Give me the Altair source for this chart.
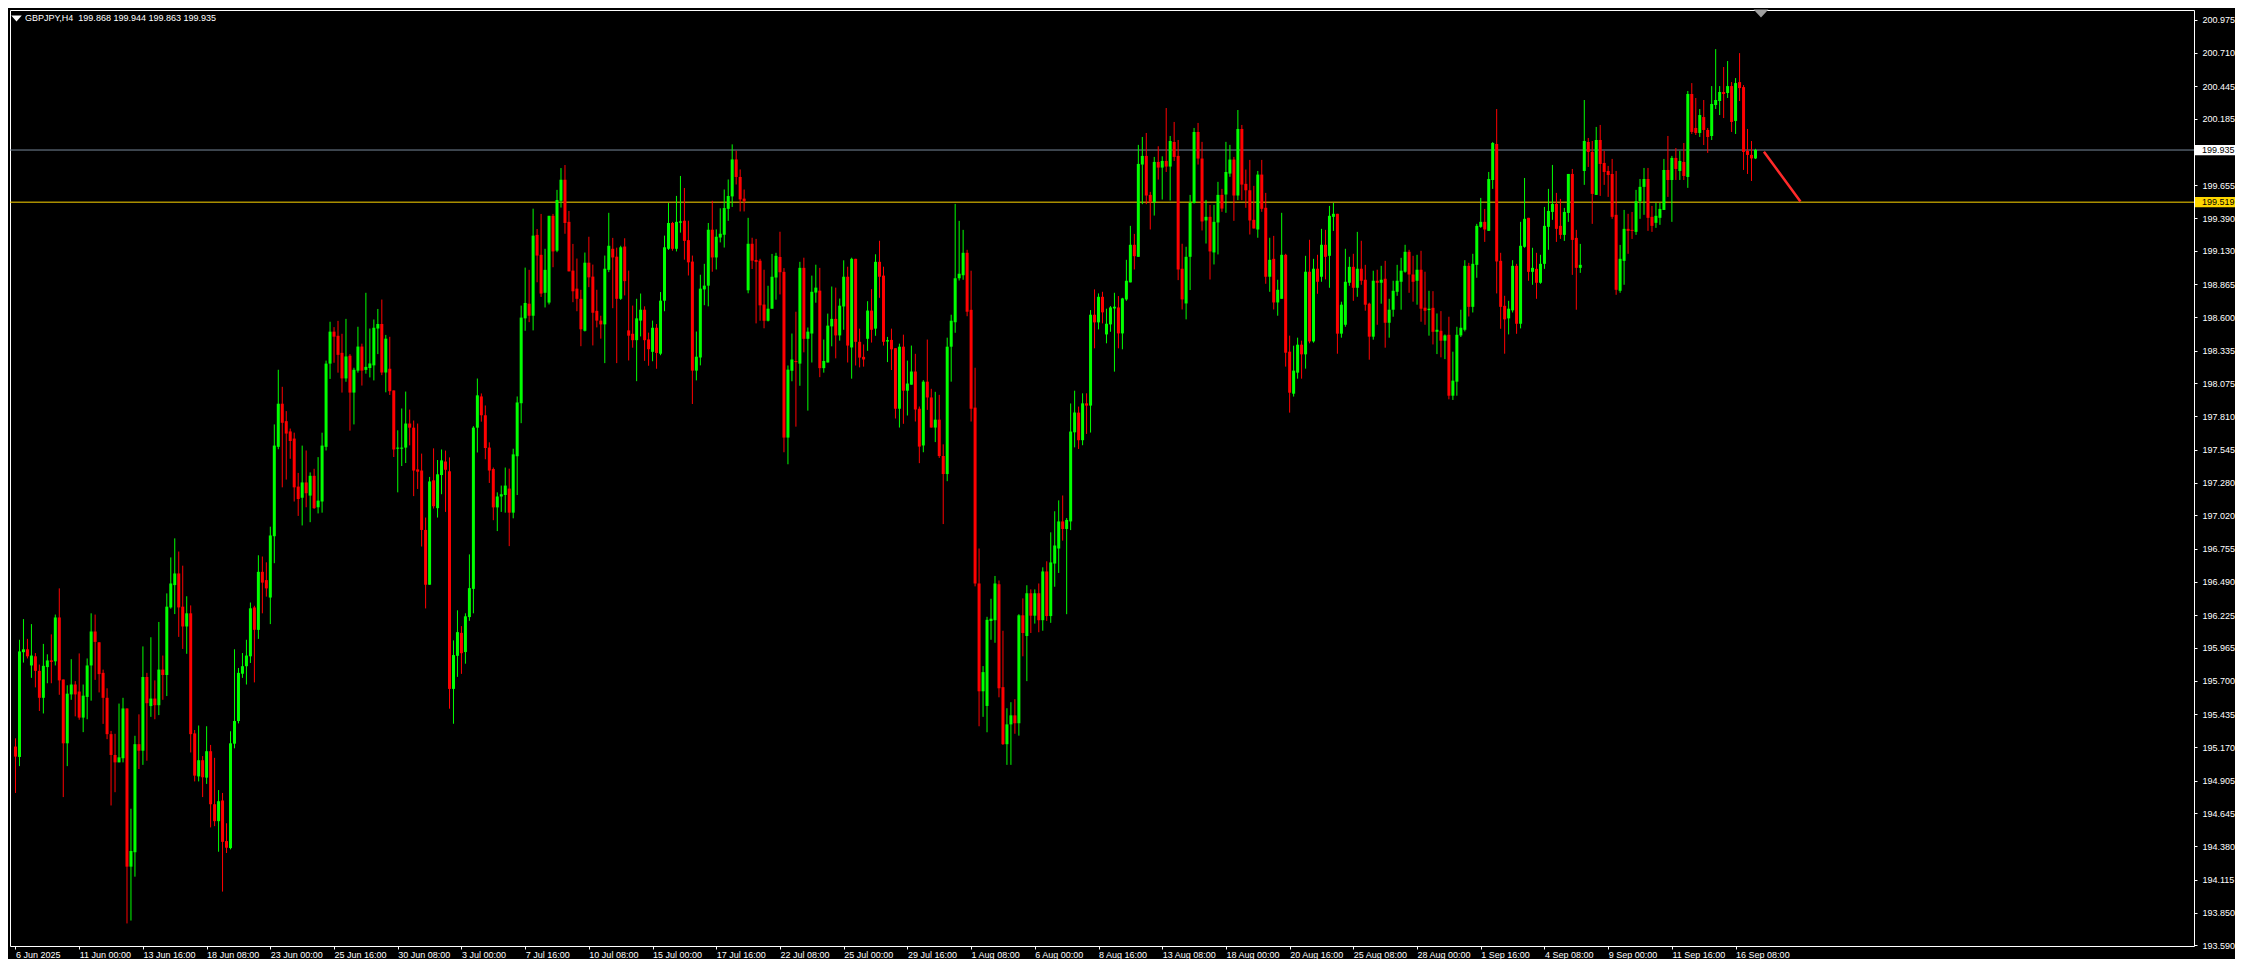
import altair as alt
import pandas as pd

SYMBOL = "GBPJPY,H4"
LAST_OHLC = [199.868, 199.944, 199.863, 199.935]

OPEN = [
    195.176, 195.093, 195.929, 195.952, 195.823, 195.896, 195.780, 195.565, 195.810, 195.863,
    195.856, 196.206, 195.711, 195.202, 195.592, 195.671, 195.615, 195.407, 195.572, 195.823,
    196.094, 196.008, 195.764, 195.565, 195.275, 195.109, 195.050, 195.083, 195.480, 194.218,
    194.333, 195.195, 195.143, 195.731, 195.499, 195.559, 195.506, 195.790, 195.747, 196.286,
    196.464, 196.557, 196.292, 196.134, 196.239, 195.281, 194.938, 195.067, 194.928, 195.139,
    194.716, 194.581, 194.746, 194.422, 194.366, 195.199, 195.380, 195.757, 195.817, 195.896,
    196.286, 196.107, 196.570, 196.504, 196.365, 196.854, 197.567, 197.911, 197.772, 197.690,
    197.633, 197.250, 197.161, 197.283, 197.178, 197.336, 197.085, 197.131, 197.567, 198.231,
    198.486, 198.453, 198.317, 198.113, 198.294, 198.000, 198.175, 198.367, 198.181, 198.196,
    198.217, 198.511, 198.547, 198.160, 198.190, 198.017, 197.552, 197.552, 197.561, 197.753,
    197.720, 197.387, 197.378, 196.904, 196.467, 197.300, 197.078, 197.342, 197.450, 197.372,
    195.636, 195.900, 196.083, 195.930, 196.209, 196.434, 197.720, 197.969, 197.819, 197.561,
    197.390, 197.084, 197.171, 197.183, 197.234, 197.042, 197.492, 197.915, 198.592, 198.709,
    198.613, 199.258, 199.099, 198.796, 198.718, 199.410, 199.132, 199.530, 199.698, 199.362,
    198.973, 198.829, 198.748, 198.493, 199.036, 198.925, 198.652, 198.574, 198.544, 198.979,
    199.147, 199.084, 198.748, 199.165, 198.496, 198.469, 198.418, 198.574, 198.661, 198.424,
    198.325, 198.517, 198.310, 198.733, 199.147, 199.353, 199.147, 199.356, 199.371, 199.216,
    199.045, 198.175, 198.280, 198.823, 198.853, 199.299, 199.078, 199.237, 199.259, 199.466,
    199.565, 199.860, 199.720, 199.547, 198.816, 199.187, 199.058, 199.052, 198.702, 198.573,
    198.669, 198.918, 199.082, 198.963, 197.641, 198.174, 198.252, 198.231, 198.995, 198.429,
    198.471, 198.798, 198.813, 198.195, 198.240, 198.528, 198.588, 198.456, 198.687, 198.924,
    198.360, 199.067, 198.405, 198.285, 198.429, 198.654, 198.510, 199.043, 198.933, 198.408,
    198.420, 198.354, 197.871, 198.366, 198.015, 198.063, 198.168, 197.871, 197.578, 198.087,
    197.961, 197.721, 197.784, 197.494, 197.350, 198.366, 198.561, 198.912, 198.936, 199.115,
    198.660, 197.880, 196.477, 195.617, 195.500, 196.178, 196.184, 196.471, 195.650, 195.195,
    195.353, 195.425, 195.362, 196.223, 196.058, 196.399, 196.220, 196.399, 196.184, 196.573,
    196.217, 196.636, 196.756, 196.972, 196.912, 196.972, 197.683, 197.840, 197.620, 197.914,
    197.896, 198.621, 198.560, 198.764, 198.464, 198.544, 198.671, 198.679, 198.472, 198.743,
    198.879, 199.179, 199.083, 199.819, 199.888, 199.577, 199.519, 199.840, 199.795, 199.848,
    199.803, 199.999, 199.888, 198.988, 198.711, 199.083, 199.513, 200.079, 199.867, 199.373,
    199.402, 199.118, 199.357, 199.577, 199.580, 199.747, 199.859, 199.572, 200.103, 199.665,
    199.614, 199.378, 199.301, 199.739, 199.474, 198.924, 199.067, 198.719, 198.748, 199.099,
    198.326, 197.991, 198.159, 198.382, 198.305, 198.964, 198.408, 198.988, 198.924, 199.179,
    199.091, 199.402, 199.426, 198.470, 198.541, 198.876, 199.003, 198.836, 198.988, 198.900,
    198.709, 198.446, 198.892, 198.876, 198.908, 198.557, 198.661, 198.804, 198.884, 198.964,
    199.123, 198.942, 198.892, 198.980, 198.677, 198.658, 198.676, 198.485, 198.493, 198.414,
    198.461, 197.975, 198.087, 198.456, 198.501, 199.011, 198.684, 199.019, 199.322, 199.362,
    199.290, 199.696, 199.983, 199.051, 198.692, 198.592, 198.656, 199.011, 198.549, 199.163,
    199.394, 198.963, 198.987, 198.876, 199.027, 199.322, 199.441, 199.505, 199.330, 199.258,
    199.433, 199.744, 199.234, 198.995, 199.768, 199.999, 199.920, 199.577, 200.015, 199.832,
    199.768, 199.744, 199.418, 198.812, 199.051, 199.306, 199.298, 199.282, 199.526, 199.641,
    199.704, 199.402, 199.354, 199.394, 199.457, 199.776, 199.696, 199.872, 199.768, 199.840,
    199.720, 200.382, 200.111, 200.071, 200.198, 200.095, 200.047, 200.294, 200.326, 200.398,
    200.390, 200.445, 200.167, 200.477, 200.437, 199.928, 199.896, 199.868,
]

HIGH = [
    195.242, 196.028, 196.193, 196.035, 196.153, 195.922, 195.830, 195.995, 195.912, 196.071,
    196.229, 196.438, 195.711, 195.665, 195.873, 195.698, 195.919, 195.671, 195.879, 196.239,
    196.229, 196.008, 195.790, 195.641, 195.301, 195.278, 195.519, 195.565, 195.480, 194.680,
    195.262, 195.433, 195.975, 195.764, 196.048, 195.704, 196.170, 195.902, 196.398, 196.685,
    196.837, 196.732, 196.619, 196.375, 196.302, 195.308, 195.344, 195.100, 195.338, 195.189,
    195.086, 194.829, 194.806, 194.564, 195.298, 195.952, 195.803, 195.922, 196.028, 196.325,
    196.299, 196.702, 196.692, 196.646, 196.930, 197.746, 198.182, 198.046, 197.852, 197.713,
    197.680, 197.359, 197.577, 197.538, 197.363, 197.392, 197.485, 197.680, 198.255, 198.565,
    198.522, 198.572, 198.469, 198.588, 198.307, 198.198, 198.525, 198.390, 198.796, 198.511,
    198.583, 198.667, 198.742, 198.460, 198.445, 198.017, 197.699, 197.873, 198.008, 197.864,
    197.777, 197.753, 197.513, 197.003, 197.327, 197.555, 197.462, 197.546, 197.537, 197.483,
    196.023, 196.263, 196.137, 196.239, 196.709, 197.732, 198.112, 197.993, 197.897, 197.603,
    197.402, 197.204, 197.258, 197.402, 197.393, 197.552, 197.969, 198.694, 198.997, 198.979,
    199.467, 199.305, 199.425, 199.147, 199.410, 199.425, 199.617, 199.791, 199.815, 199.449,
    199.186, 199.069, 198.820, 199.117, 199.243, 199.021, 198.820, 198.613, 199.093, 199.434,
    199.234, 199.156, 199.171, 199.231, 198.973, 198.694, 198.748, 198.790, 198.688, 198.478,
    198.574, 198.547, 198.802, 199.252, 199.512, 199.362, 199.569, 199.728, 199.632, 199.371,
    199.093, 198.487, 198.940, 199.027, 199.353, 199.530, 199.302, 199.470, 199.620, 199.700,
    199.980, 199.930, 199.780, 199.620, 199.394, 199.235, 199.226, 199.067, 198.980, 198.852,
    199.106, 199.115, 199.283, 198.993, 198.216, 198.471, 198.645, 199.043, 199.076, 198.519,
    198.933, 199.020, 198.995, 198.423, 198.630, 198.846, 198.837, 198.750, 199.055, 199.004,
    199.076, 199.067, 198.510, 198.384, 198.729, 198.825, 199.103, 199.211, 199.004, 198.444,
    198.510, 198.354, 198.390, 198.462, 198.255, 198.375, 198.309, 197.889, 198.099, 198.423,
    198.030, 198.006, 197.982, 197.587, 198.438, 198.621, 199.505, 199.370, 199.298, 199.139,
    198.972, 198.198, 196.756, 195.818, 196.211, 196.355, 196.537, 196.501, 196.100, 195.482,
    195.530, 195.554, 196.232, 196.358, 196.463, 196.430, 196.430, 196.477, 196.606, 196.654,
    196.885, 197.053, 197.140, 197.179, 196.999, 197.913, 198.015, 197.888, 197.994, 197.994,
    198.658, 198.823, 198.791, 198.804, 198.669, 198.690, 198.796, 198.770, 198.756, 199.059,
    199.330, 199.266, 199.976, 200.039, 200.071, 199.601, 199.880, 199.965, 199.885, 200.270,
    200.047, 200.159, 200.015, 199.187, 199.163, 199.577, 200.111, 200.151, 200.000, 199.537,
    199.497, 199.497, 199.681, 199.625, 200.000, 199.976, 199.880, 200.254, 200.135, 199.779,
    199.856, 199.649, 199.768, 199.856, 199.593, 199.235, 199.250, 198.900, 199.434, 199.107,
    198.454, 198.374, 198.438, 198.414, 199.091, 199.219, 199.067, 199.099, 199.306, 199.298,
    199.489, 199.513, 199.426, 198.725, 199.147, 199.083, 199.107, 199.282, 199.211, 199.019,
    198.717, 198.972, 198.980, 199.011, 199.051, 198.748, 198.892, 199.019, 199.075, 199.179,
    199.139, 199.091, 199.099, 199.131, 198.964, 198.812, 198.809, 198.631, 198.650, 198.464,
    198.605, 198.326, 198.525, 198.661, 199.056, 199.035, 199.107, 199.346, 199.553, 199.465,
    199.760, 199.999, 200.262, 199.115, 198.772, 198.732, 199.056, 199.027, 199.362, 199.712,
    199.394, 199.155, 199.115, 199.099, 199.481, 199.625, 199.816, 199.593, 199.545, 199.473,
    199.744, 199.784, 199.298, 199.186, 200.334, 200.031, 200.007, 200.119, 200.135, 199.928,
    199.808, 199.864, 199.768, 199.178, 199.457, 199.426, 199.441, 199.617, 199.704, 199.792,
    199.792, 199.489, 199.513, 199.513, 199.864, 200.047, 199.888, 199.951, 199.928, 199.991,
    200.406, 200.469, 200.350, 200.262, 200.334, 200.111, 200.445, 200.740, 200.445, 200.597,
    200.645, 200.477, 200.509, 200.708, 200.453, 200.103, 200.007, 199.944,
]

LOW = [
    194.806, 195.020, 195.846, 195.879, 195.724, 195.648, 195.460, 195.440, 195.681, 195.681,
    195.823, 195.589, 194.773, 195.020, 195.549, 195.417, 195.390, 195.291, 195.394, 195.542,
    195.708, 195.608, 195.357, 195.235, 194.706, 194.812, 195.050, 195.050, 193.765, 193.788,
    194.138, 194.997, 195.030, 195.063, 195.413, 195.394, 195.427, 195.549, 195.579, 196.276,
    196.233, 196.051, 195.955, 195.916, 195.129, 194.898, 194.898, 194.773, 194.878, 194.531,
    194.541, 194.337, 194.019, 194.327, 194.356, 195.162, 195.361, 195.724, 195.671, 195.843,
    195.688, 196.035, 196.239, 196.372, 196.153, 196.639, 197.548, 197.244, 197.306, 197.472,
    197.131, 197.016, 196.940, 197.085, 196.966, 197.072, 197.036, 197.042, 197.538, 198.109,
    198.238, 198.159, 198.000, 198.086, 197.696, 197.746, 198.159, 198.056, 198.151, 198.121,
    198.097, 198.307, 198.139, 198.002, 197.981, 197.486, 197.204, 197.414, 197.438, 197.579,
    197.174, 197.231, 196.772, 196.278, 196.467, 197.075, 197.003, 197.189, 197.048, 195.478,
    195.358, 195.732, 195.756, 195.837, 196.179, 196.239, 197.522, 197.768, 197.468, 197.279,
    196.982, 196.895, 197.048, 197.042, 196.775, 196.997, 197.183, 197.756, 198.493, 198.562,
    198.496, 198.880, 198.763, 198.679, 198.703, 199.000, 199.120, 199.476, 199.267, 198.967,
    198.721, 198.649, 198.370, 198.487, 198.841, 198.376, 198.520, 198.430, 198.235, 198.961,
    198.673, 198.235, 198.739, 198.775, 198.256, 198.358, 198.091, 198.448, 198.253, 198.214,
    198.250, 198.190, 198.298, 198.649, 199.138, 199.132, 199.126, 199.276, 199.060, 198.934,
    197.909, 198.097, 198.217, 198.697, 198.688, 198.964, 198.982, 199.198, 199.157, 199.370,
    199.481, 199.660, 199.445, 199.445, 198.792, 198.986, 198.552, 198.573, 198.513, 198.567,
    198.669, 198.741, 198.783, 197.524, 197.428, 198.090, 197.728, 198.054, 198.321, 197.856,
    198.240, 198.717, 198.123, 198.159, 198.240, 198.369, 198.273, 198.414, 198.501, 198.240,
    198.111, 198.216, 198.201, 198.207, 198.333, 198.399, 198.453, 198.756, 198.375, 198.243,
    198.180, 197.793, 197.721, 197.751, 197.817, 198.063, 197.769, 197.437, 197.524, 197.862,
    197.721, 197.605, 197.479, 196.951, 197.293, 198.087, 198.477, 198.894, 198.900, 198.609,
    197.769, 196.454, 195.338, 195.413, 195.290, 196.028, 196.004, 195.569, 195.189, 195.030,
    195.030, 195.278, 195.263, 195.896, 195.698, 196.082, 196.157, 196.088, 196.100, 196.178,
    196.163, 196.451, 196.561, 196.819, 196.232, 196.903, 197.563, 197.550, 197.580, 197.670,
    197.681, 198.353, 198.504, 198.552, 198.393, 198.485, 198.167, 198.353, 198.345, 198.732,
    198.879, 198.982, 199.083, 199.503, 199.503, 199.301, 199.412, 199.699, 199.540, 199.760,
    199.532, 199.848, 198.897, 198.663, 198.584, 198.818, 199.508, 199.819, 199.293, 199.189,
    198.902, 199.022, 199.102, 199.442, 199.434, 199.721, 199.370, 199.535, 199.535, 199.474,
    199.261, 199.309, 199.235, 199.442, 198.868, 198.804, 198.663, 198.613, 198.748, 198.207,
    197.840, 197.968, 198.111, 198.111, 198.191, 198.393, 198.398, 198.788, 198.884, 198.903,
    198.836, 199.290, 198.310, 198.438, 198.525, 198.852, 198.732, 198.764, 198.860, 198.653,
    198.262, 198.422, 198.541, 198.709, 198.358, 198.438, 198.605, 198.772, 198.661, 198.956,
    198.796, 198.725, 198.701, 198.565, 198.541, 198.454, 198.384, 198.307, 198.281, 198.267,
    197.946, 197.941, 197.975, 198.443, 198.488, 198.607, 198.639, 198.916, 199.314, 199.202,
    199.290, 199.625, 198.791, 198.509, 198.310, 198.464, 198.639, 198.469, 198.512, 199.155,
    198.892, 198.860, 198.748, 198.868, 198.987, 199.139, 199.378, 199.202, 199.226, 199.210,
    199.362, 198.939, 198.661, 198.955, 199.657, 199.800, 199.346, 199.577, 199.569, 199.657,
    199.561, 199.386, 198.780, 198.796, 198.860, 199.107, 199.226, 199.258, 199.386, 199.418,
    199.290, 199.282, 199.314, 199.338, 199.457, 199.561, 199.362, 199.696, 199.696, 199.696,
    199.633, 200.063, 200.055, 200.039, 199.975, 199.912, 200.015, 200.262, 200.214, 200.190,
    200.350, 200.079, 200.063, 200.326, 199.776, 199.744, 199.688, 199.863,
]

CLOSE = [
    195.096, 195.935, 195.952, 195.896, 195.902, 195.780, 195.565, 195.820, 195.863, 195.856,
    196.206, 195.704, 195.202, 195.598, 195.671, 195.592, 195.407, 195.582, 195.823, 196.094,
    196.011, 195.754, 195.565, 195.275, 195.109, 195.050, 195.090, 195.480, 194.218, 194.343,
    195.195, 195.143, 195.731, 195.522, 195.559, 195.506, 195.790, 195.747, 196.292, 196.477,
    196.557, 196.286, 196.134, 196.239, 195.275, 194.944, 195.067, 194.931, 195.139, 194.716,
    194.581, 194.740, 194.416, 194.369, 195.202, 195.380, 195.764, 195.817, 195.902, 196.279,
    196.107, 196.570, 196.484, 196.438, 196.860, 197.577, 197.911, 197.759, 197.673, 197.614,
    197.244, 197.151, 197.283, 197.197, 197.336, 197.078, 197.138, 197.577, 198.231, 198.486,
    198.446, 198.301, 198.113, 198.288, 198.000, 198.182, 198.367, 198.175, 198.205, 198.232,
    198.517, 198.547, 198.160, 198.430, 198.011, 197.546, 197.561, 197.561, 197.753, 197.720,
    197.378, 197.369, 196.904, 196.467, 197.291, 197.093, 197.348, 197.459, 197.384, 195.636,
    195.906, 196.089, 195.921, 196.215, 196.440, 197.720, 197.978, 197.819, 197.558, 197.378,
    197.084, 197.171, 197.189, 197.258, 197.042, 197.507, 197.921, 198.598, 198.715, 198.613,
    199.252, 199.093, 198.790, 198.979, 199.410, 199.126, 199.536, 199.698, 199.353, 198.967,
    198.808, 198.748, 198.505, 199.036, 198.919, 198.637, 198.574, 198.544, 198.988, 199.171,
    199.078, 198.748, 199.159, 198.889, 198.454, 198.418, 198.592, 198.661, 198.418, 198.346,
    198.517, 198.316, 198.733, 199.159, 199.353, 199.147, 199.362, 199.362, 199.210, 199.039,
    198.175, 198.286, 198.829, 198.853, 199.299, 199.078, 199.243, 199.267, 199.472, 199.568,
    199.860, 199.720, 199.541, 199.526, 199.187, 199.052, 199.043, 198.696, 198.573, 198.669,
    198.924, 199.091, 198.960, 197.641, 198.183, 198.264, 198.243, 198.995, 198.429, 198.486,
    198.804, 198.837, 198.195, 198.252, 198.534, 198.588, 198.456, 198.693, 198.924, 198.375,
    199.067, 198.405, 198.279, 198.264, 198.654, 198.501, 199.043, 198.924, 198.405, 198.414,
    198.345, 197.871, 198.366, 198.015, 198.072, 198.168, 197.865, 197.569, 198.087, 197.961,
    197.721, 197.784, 197.494, 197.350, 198.366, 198.573, 198.912, 198.948, 199.115, 198.645,
    197.871, 196.477, 195.617, 195.770, 196.187, 196.196, 196.477, 195.641, 195.195, 195.353,
    195.425, 195.362, 196.223, 196.082, 196.399, 196.220, 196.399, 196.184, 196.573, 196.217,
    196.645, 196.780, 196.972, 196.912, 196.984, 197.689, 197.841, 197.620, 197.914, 197.896,
    198.621, 198.560, 198.764, 198.640, 198.549, 198.679, 198.685, 198.472, 198.751, 198.892,
    199.179, 199.088, 199.824, 199.888, 199.572, 199.519, 199.840, 199.795, 199.848, 199.803,
    200.007, 199.880, 198.982, 198.743, 199.083, 199.513, 200.079, 199.867, 199.365, 199.402,
    199.126, 199.362, 199.577, 199.468, 199.760, 199.859, 199.572, 200.103, 199.659, 199.614,
    199.373, 199.309, 199.739, 199.466, 198.924, 199.059, 198.719, 198.820, 199.099, 198.318,
    197.999, 198.175, 198.382, 198.305, 198.964, 198.408, 198.988, 198.884, 199.179, 199.083,
    199.410, 199.426, 198.470, 198.701, 198.884, 199.003, 198.836, 198.988, 198.892, 198.701,
    198.446, 198.892, 198.876, 198.900, 198.557, 198.661, 198.812, 198.892, 198.972, 199.123,
    198.942, 198.884, 198.980, 198.669, 198.653, 198.669, 198.485, 198.501, 198.414, 198.456,
    197.975, 198.095, 198.461, 198.517, 199.011, 198.684, 199.027, 199.330, 199.362, 199.301,
    199.704, 199.991, 199.046, 198.684, 198.584, 198.669, 199.011, 198.549, 199.171, 199.386,
    198.963, 198.995, 198.876, 199.027, 199.330, 199.449, 199.505, 199.306, 199.258, 199.441,
    199.744, 199.218, 198.995, 199.019, 200.007, 199.920, 199.585, 200.015, 199.824, 199.760,
    199.736, 199.402, 198.820, 199.067, 199.306, 199.290, 199.290, 199.526, 199.641, 199.704,
    199.394, 199.330, 199.410, 199.465, 199.776, 199.696, 199.872, 199.784, 199.848, 199.728,
    200.382, 200.079, 200.071, 200.214, 200.095, 200.039, 200.302, 200.334, 200.398, 200.382,
    200.445, 200.159, 200.469, 200.429, 199.920, 199.896, 199.868, 199.935,
]

DATE_LABELS = [
    "6 Jun 2025", "11 Jun 00:00", "13 Jun 16:00", "18 Jun 08:00", "23 Jun 00:00",
    "25 Jun 16:00", "30 Jun 08:00", "3 Jul 00:00", "7 Jul 16:00", "10 Jul 08:00",
    "15 Jul 00:00", "17 Jul 16:00", "22 Jul 08:00", "25 Jul 00:00", "29 Jul 16:00",
    "1 Aug 08:00", "6 Aug 00:00", "8 Aug 16:00", "13 Aug 08:00", "18 Aug 00:00",
    "20 Aug 16:00", "25 Aug 08:00", "28 Aug 00:00", "1 Sep 16:00", "4 Sep 08:00",
    "9 Sep 00:00", "11 Sep 16:00", "16 Sep 08:00",
]
BARS_PER_LABEL = 16

PRICE_TICKS = [
    200.975, 200.710, 200.445, 200.185, 199.655, 199.390, 199.130, 198.865,
    198.600, 198.335, 198.075, 197.810, 197.545, 197.280, 197.020, 196.755,
    196.490, 196.225, 195.965, 195.700, 195.435, 195.170, 194.905, 194.645,
    194.380, 194.115, 193.850, 193.590,
]

BID_LEVEL = 199.935
SUPPORT_LEVEL = 199.519

TREND_BAR = [439.3, 448.1]
TREND_PRICE = [199.914, 199.532]

# ---------------------------------------------------------------------------
n = len(CLOSE)
df = pd.DataFrame({"idx": list(range(n)), "open": OPEN, "high": HIGH,
                   "low": LOW, "close": CLOSE})
df["dir"] = ["up" if c >= o else "down" for o, c in zip(OPEN, CLOSE)]

FONT = "Liberation Sans"
WHITE = "#FFFFFF"
PLOT_W = 2184
PLOT_H = 936

xscale = alt.Scale(domain=[-0.125, 545.875], nice=False, zero=False)
yscale = alt.Scale(domain=[193.585, 201.052], nice=False, zero=False)

label_js = "[" + ",".join("'" + s + "'" for s in DATE_LABELS) + "]"
xaxis = alt.Axis(
    values=[BARS_PER_LABEL * i for i in range(len(DATE_LABELS))],
    labelExpr=label_js + "[round(datum.value / %d)]" % BARS_PER_LABEL,
    orient="bottom", title=None, grid=False, domain=False,
    ticks=True, tickColor=WHITE, tickSize=3, tickWidth=1,
    labelColor=WHITE, labelFont=FONT, labelFontSize=9,
    labelAlign="left", labelBaseline="top", labelPadding=1,
    labelOverlap=False, labelFlush=False,
)
yaxis = alt.Axis(
    values=PRICE_TICKS, format=".3f", orient="right", title=None,
    grid=False, domain=False, ticks=True, tickColor=WHITE, tickSize=3,
    labelColor=WHITE, labelFont=FONT, labelFontSize=9, labelPadding=5,
    labelOverlap=False, labelFlush=False,
)


def X(field):
    return alt.X(f"{field}:Q", scale=xscale, axis=xaxis)


def Y(field):
    return alt.Y(f"{field}:Q", scale=yscale, axis=yaxis)


color = alt.Color("dir:N",
                  scale=alt.Scale(domain=["up", "down"], range=["#00FF00", "#FF0000"]),
                  legend=None)


def level_rule(price, col):
    return alt.Chart(pd.DataFrame({"price": [price]})).mark_rule(
        strokeWidth=1, color=col).encode(y=Y("price"))


def level_box(price, fill):
    return alt.Chart(pd.DataFrame({"price": [price]})).transform_calculate(
        top="datum.price + 0.041", bot="datum.price - 0.041"
    ).mark_rect(color=fill).encode(
        x=alt.value(PLOT_W + 1), x2=alt.value(PLOT_W + 41),
        y=Y("top"), y2=alt.Y2("bot"))


def level_text(price):
    return alt.Chart(pd.DataFrame({"price": [price]})).mark_text(
        align="left", baseline="middle", font=FONT, fontSize=9, color="#000000"
    ).encode(x=alt.value(PLOT_W + 8), y=Y("price"),
             text=alt.Text("price:Q", format=".3f"))


wicks = alt.Chart(df).mark_rule(strokeWidth=1).encode(
    x=X("idx"), y=Y("low"), y2=alt.Y2("high"), color=color)

bodies = alt.Chart(df).mark_bar(size=3, strokeWidth=0).encode(
    x=X("idx"), y=Y("open"), y2=alt.Y2("close"), color=color)

doji = alt.Chart(df).transform_filter(
    "abs(datum.open - datum.close) < 0.008"
).transform_calculate(
    xl="datum.idx - 0.375", xr="datum.idx + 0.375"
).mark_rule(strokeWidth=1).encode(
    x=X("xl"), x2=alt.X2("xr"), y=Y("close"), color=color)

trend = alt.Chart(pd.DataFrame({"bar": TREND_BAR, "price": TREND_PRICE})).mark_line(
    strokeWidth=2.5, color="#FF2A2A", strokeCap="square"
).encode(x=X("bar"), y=Y("price"))

header_txt = SYMBOL + "\u00a0\u00a0" + " ".join("%.3f" % v for v in LAST_OHLC)
header = alt.Chart(pd.DataFrame({"t": [header_txt]})).mark_text(
    align="left", baseline="middle", font=FONT, fontSize=9, color=WHITE
).encode(x=alt.value(15), y=alt.value(8), text="t:N")

TRI = "M-1,-0.55L1,-0.55L0,0.55Z"
header_tri = alt.Chart(pd.DataFrame({"a": [0]})).mark_point(
    shape=TRI, filled=True, size=110, color=WHITE, opacity=1, strokeWidth=0
).encode(x=alt.value(6.5), y=alt.value(8.5))

shift_tri = alt.Chart(pd.DataFrame({"a": [0]})).mark_point(
    shape=TRI, filled=True, size=220, color="#A0A0A0", opacity=1, strokeWidth=0
).encode(x=alt.value(1751), y=alt.value(3.5))

chart = alt.layer(
    level_rule(BID_LEVEL, "#778899"),
    level_rule(SUPPORT_LEVEL, "#FFD700"),
    wicks, bodies, doji, trend,
    level_box(BID_LEVEL, "#FFFFFF"), level_text(BID_LEVEL),
    level_box(SUPPORT_LEVEL, "#FFD700"), level_text(SUPPORT_LEVEL),
    header, header_tri, shift_tri,
).properties(
    width=PLOT_W, height=PLOT_H,
    padding={"left": 1, "top": 1, "right": 0, "bottom": 0},
    background="#000000",
).configure_view(stroke=WHITE, strokeWidth=1)

chart.save("out.html", embed_options={"renderer": "svg", "actions": False})
